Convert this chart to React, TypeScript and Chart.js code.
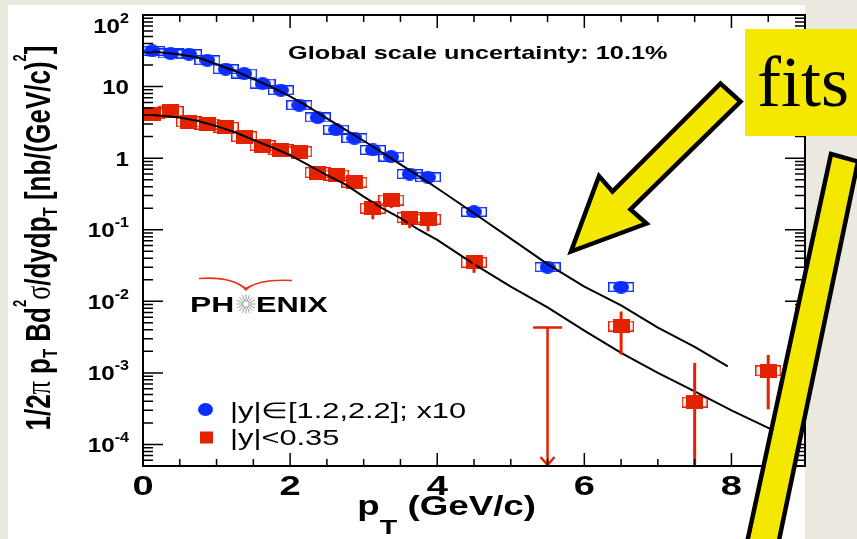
import React, { useEffect, useRef } from "react";
import { Chart, registerables } from "chart.js";

Chart.register(...registerables);

// ---------------- data ----------------
// |y| in [1.2,2.2] (x10), blue circles
const blueX = [0.125, 0.375, 0.625, 0.875, 1.125, 1.375, 1.625, 1.875, 2.125, 2.375, 2.625, 2.875, 3.125, 3.375, 3.625, 3.875, 4.5, 5.5, 6.5];
const blueY = [31.5, 29, 28.3, 23.3, 17.5, 15.2, 11, 8.9, 5.5, 3.7, 2.5, 1.9, 1.3, 1.05, 0.6, 0.54, 0.178, 0.03, 0.0158];

// |y| < 0.35, red squares
const redX = [0.125, 0.375, 0.625, 0.875, 1.125, 1.375, 1.625, 1.875, 2.125, 2.375, 2.625, 2.875, 3.125, 3.375, 3.625, 3.875, 4.5, 6.5, 7.5, 8.5];
const redY = [4.2, 4.5, 3.2, 3.0, 2.7, 2.0, 1.5, 1.32, 1.23, 0.63, 0.58, 0.46, 0.2, 0.26, 0.148, 0.14, 0.035, 0.0045, 0.00039, 0.00107];
const redErrLow = [null, null, null, null, null, null, null, null, null, null, null, null, 0.14, 0.2, 0.105, 0.095, 0.025, 0.0018, 0.00001, 0.00031];
const redErrHigh = [null, null, null, null, null, null, null, null, null, null, null, null, 0.24, 0.3, 0.18, 0.175, 0.043, 0.0072, 0.00138, 0.00178];

// upper limit (red, arrow)
const limitX = [5.5];
const limitY = [0.0043];

// fit curves
const fitBlueX = [0.13, 0.5, 0.75, 1.0, 1.25, 1.5, 1.75, 2.0, 2.25, 2.5, 2.75, 3.0, 3.25, 3.5, 3.75, 4.0, 4.5, 5.0, 5.5, 6.0, 6.5, 7.0, 7.5, 7.95];
const fitBlueY = [31, 28, 25.5, 20.5, 16.5, 12.8, 9.8, 7.3, 5.2, 3.6, 2.5, 1.75, 1.2, 0.82, 0.56, 0.38, 0.17, 0.075, 0.033, 0.016, 0.0088, 0.0043, 0.0023, 0.00123];
const fitRedX = [0.13, 0.5, 0.75, 1.0, 1.25, 1.5, 1.75, 2.0, 2.25, 2.5, 2.75, 3.0, 3.25, 3.5, 3.75, 4.0, 4.5, 5.0, 5.5, 6.0, 6.5, 7.0, 7.5, 8.0, 8.5, 8.9];
const fitRedY = [4.0, 3.7, 3.3, 2.8, 2.3, 1.8, 1.42, 1.1, 0.8, 0.58, 0.43, 0.29, 0.2, 0.145, 0.1, 0.072, 0.033, 0.016, 0.0082, 0.0039, 0.0019, 0.001, 0.00055, 0.0003, 0.00017, 0.000107];

// axes / text
const xTickLabels = [0, 2, 4, 6, 8];
const yTickPowers = [2, 1, 0, -1, -2, -3, -4];
const legendLabels = ["|y|\u2208[1.2,2.2]; x10", "|y|<0.35"];
const scaleNote = "Global scale uncertainty: 10.1%";
const calloutText = "fits";

// ---------------- styling ----------------
const BLUE = "#0b2dff";
const RED = "#e52200";
const YELLOW = "#f5e800";
const SANS = "'Liberation Sans', Arial, Helvetica, sans-serif";
const SERIF = "'Liberation Serif', 'Times New Roman', serif";
const SX = 1.36; // horizontal stretch of the original picture

type Run = { t: string; font: string; dy?: number };

function drawRuns(ctx: CanvasRenderingContext2D, runs: Run[], x: number, y: number, sx: number, sy: number, align: string, rot = 0) {
  ctx.save();
  ctx.translate(x, y);
  if (rot) ctx.rotate(rot);
  ctx.scale(sx, sy);
  let w = 0;
  for (const r of runs) { ctx.font = r.font; w += ctx.measureText(r.t).width; }
  let cx = align === "left" ? 0 : align === "center" ? -w / 2 : -w;
  ctx.textAlign = "left";
  ctx.textBaseline = "alphabetic";
  for (const r of runs) {
    ctx.font = r.font;
    ctx.fillText(r.t, cx, r.dy || 0);
    cx += ctx.measureText(r.t).width;
  }
  ctx.restore();
}

function makeBox(color: string, w: number, h: number) {
  const c = document.createElement("canvas");
  c.width = w; c.height = h;
  const g = c.getContext("2d")!;
  g.strokeStyle = color; g.lineWidth = 1.4;
  g.strokeRect(0.7, 0.7, w - 1.4, h - 1.4);
  return c;
}
function makeEllipse(color: string, w: number, h: number) {
  const c = document.createElement("canvas");
  c.width = w; c.height = h;
  const g = c.getContext("2d")!;
  g.fillStyle = color;
  g.beginPath(); g.ellipse(w / 2, h / 2, w / 2, h / 2, 0, 0, Math.PI * 2); g.fill();
  return c;
}
function makeRect(color: string, w: number, h: number) {
  const c = document.createElement("canvas");
  c.width = w; c.height = h;
  const g = c.getContext("2d")!;
  g.fillStyle = color; g.fillRect(0, 0, w, h);
  return c;
}

const decorPlugin = {
  id: "decor",
  beforeDraw(chart: any) {
    const ctx = chart.ctx as CanvasRenderingContext2D;
    const ca = chart.chartArea;
    ctx.save();
    ctx.fillStyle = "#ebe9df";
    ctx.fillRect(0, 0, chart.width, chart.height);
    ctx.fillStyle = "#ffffff";
    ctx.fillRect(8, 5, ca.right - 8, chart.height - 5);
    ctx.restore();
  },
  afterDatasetsDraw(chart: any) {
    const ctx = chart.ctx as CanvasRenderingContext2D;
    const xs = chart.scales.x, ys = chart.scales.y;
    const { left, right, top, bottom } = chart.chartArea;
    ctx.save();
    ctx.beginPath(); ctx.rect(left, top, right - left, bottom - top); ctx.clip();
    ctx.strokeStyle = RED; ctx.lineWidth = 3;
    redX.forEach((x, i) => {
      const lo = redErrLow[i], hi = redErrHigh[i];
      if (lo == null || hi == null) return;
      const px = xs.getPixelForValue(x);
      ctx.beginPath();
      ctx.moveTo(px, ys.getPixelForValue(hi));
      ctx.lineTo(px, ys.getPixelForValue(lo));
      ctx.stroke();
    });
    ctx.lineWidth = 2.5;
    limitX.forEach((x, i) => {
      const px = xs.getPixelForValue(x);
      const py = ys.getPixelForValue(limitY[i]);
      ctx.beginPath();
      ctx.moveTo(px, py); ctx.lineTo(px, bottom - 1);
      ctx.moveTo(px - 14.5, py); ctx.lineTo(px + 14.5, py);
      ctx.moveTo(px - 7, bottom - 9); ctx.lineTo(px, bottom - 1); ctx.lineTo(px + 7, bottom - 9);
      ctx.stroke();
    });
    ctx.restore();
  },
  afterDraw(chart: any) {
    const ctx = chart.ctx as CanvasRenderingContext2D;
    const xs = chart.scales.x, ys = chart.scales.y;
    const { left, right, top, bottom } = chart.chartArea;
    ctx.save();
    // ticks
    ctx.strokeStyle = "#000"; ctx.lineWidth = 1.5;
    ctx.beginPath();
    for (let k = 0; k <= 18; k++) {
      const v = k * 0.5;
      const px = xs.getPixelForValue(v);
      const len = k % 4 === 0 ? 13 : 7;
      ctx.moveTo(px, bottom); ctx.lineTo(px, bottom - len);
      ctx.moveTo(px, top); ctx.lineTo(px, top + len);
    }
    for (let p = -5; p <= 2; p++) {
      for (let m = 1; m <= 9; m++) {
        const v = m * Math.pow(10, p);
        if (v < ys.min * 0.999 || v > ys.max * 1.001) continue;
        const py = ys.getPixelForValue(v);
        const len = m === 1 ? 20 : 10;
        ctx.moveTo(left, py); ctx.lineTo(left + len, py);
        ctx.moveTo(right, py); ctx.lineTo(right - len, py);
      }
    }
    ctx.stroke();
    // frame
    ctx.lineWidth = 2;
    ctx.strokeRect(left, top, right - left, bottom - top);

    ctx.fillStyle = "#000";
    // x tick labels
    xTickLabels.forEach((v) => {
      drawRuns(ctx, [{ t: String(v), font: `bold 28px ${SANS}` }], xs.getPixelForValue(v), 495, SX, 1, "center");
    });
    // y tick labels
    yTickPowers.forEach((p) => {
      let cy = ys.getPixelForValue(Math.pow(10, p));
      if (cy < top + 10) cy = top + 10;
      const runs: Run[] = p === 1 ? [{ t: "10", font: `bold 21px ${SANS}` }]
        : p === 0 ? [{ t: "1", font: `bold 21px ${SANS}` }]
        : [{ t: "10", font: `bold 21px ${SANS}` }, { t: String(p), font: `bold 14px ${SANS}`, dy: -10 }];
      drawRuns(ctx, runs, 129, cy + 7.5, 1.15, 1, "right");
    });
    // x title
    drawRuns(ctx, [
      { t: "p", font: `bold 27px ${SANS}` },
      { t: "T", font: `bold 21px ${SANS}`, dy: 19 },
      { t: " (GeV/c)", font: `bold 27px ${SANS}` },
    ], 536, 515, SX, 1, "right");
    // y title (rotated)
    drawRuns(ctx, [
      { t: "1/2", font: `bold 26px ${SANS}` },
      { t: "\u03c0", font: `26px ${SERIF}` },
      { t: " p", font: `bold 26px ${SANS}` },
      { t: "T", font: `bold 15px ${SANS}`, dy: 5 },
      { t: " Bd", font: `bold 26px ${SANS}` },
      { t: "2", font: `bold 13px ${SANS}`, dy: -18 },
      { t: "\u03c3", font: `26px ${SERIF}` },
      { t: "/dydp", font: `bold 26px ${SANS}` },
      { t: "T", font: `bold 15px ${SANS}`, dy: 5 },
      { t: " [nb/(GeV/c)", font: `bold 26px ${SANS}` },
      { t: "2", font: `bold 13px ${SANS}`, dy: -18 },
      { t: "]", font: `bold 26px ${SANS}` },
    ], 50, 238, 1, SX, "center", -Math.PI / 2);

    // global scale note
    drawRuns(ctx, [{ t: scaleNote, font: `bold 18.6px ${SANS}` }], 288, 58.5, SX, 1, "left");

    // legend
    ctx.fillStyle = BLUE;
    ctx.beginPath(); ctx.ellipse(205.5, 409.5, 7.5, 6.5, 0, 0, Math.PI * 2); ctx.fill();
    ctx.fillStyle = RED;
    ctx.fillRect(200, 431.5, 13, 12);
    ctx.fillStyle = "#000";
    drawRuns(ctx, [{ t: legendLabels[0], font: `22px ${SANS}` }], 230, 418, 1.4, 1, "left");
    drawRuns(ctx, [{ t: legendLabels[1], font: `22px ${SANS}` }], 230, 445, 1.4, 1, "left");

    // PHENIX logo
    drawRuns(ctx, [{ t: "PH", font: `bold 22px ${SANS}` }], 190, 312, 1.45, 1, "left");
    drawRuns(ctx, [{ t: "ENIX", font: `bold 22px ${SANS}` }], 256, 312, 1.4, 1, "left");
    ctx.strokeStyle = "#9a9a9a"; ctx.lineWidth = 1;
    ctx.beginPath();
    for (let k = 0; k < 16; k++) {
      const a = (k / 16) * Math.PI * 2;
      ctx.moveTo(246 + Math.cos(a) * 2.5, 304 + Math.sin(a) * 2.5);
      ctx.lineTo(246 + Math.cos(a) * 9.5, 304 + Math.sin(a) * 9.5);
    }
    ctx.stroke();
    ctx.strokeStyle = "#e8321c"; ctx.lineWidth = 1.6;
    ctx.beginPath();
    ctx.moveTo(199, 278.5);
    ctx.quadraticCurveTo(232, 276, 246, 289.5);
    ctx.quadraticCurveTo(258, 279, 292, 280.5);
    ctx.stroke();
    ctx.fillStyle = "#e8321c";
    ctx.beginPath(); ctx.moveTo(240, 284.5); ctx.lineTo(246, 291); ctx.lineTo(252, 284.5); ctx.lineTo(246, 287.5); ctx.closePath(); ctx.fill();

    // yellow callout box
    ctx.fillStyle = YELLOW;
    ctx.fillRect(745, 29, 120, 107);
    ctx.fillStyle = "#000";
    (ctx as any).textRendering = "optimizeLegibility";
    ctx.font = `72px ${SERIF}`;
    ctx.textAlign = "left"; ctx.textBaseline = "alphabetic";
    ctx.fillText(calloutText, 757, 106);

    // yellow arrow
    ctx.fillStyle = YELLOW; ctx.strokeStyle = "#000"; ctx.lineWidth = 4.5; ctx.lineJoin = "miter";
    ctx.beginPath();
    ctx.moveTo(571, 251.5);
    ctx.lineTo(599, 176);
    ctx.lineTo(612.5, 191.5);
    ctx.lineTo(720.5, 83.5);
    ctx.lineTo(740.5, 101.5);
    ctx.lineTo(630.5, 209.5);
    ctx.lineTo(646.5, 223.5);
    ctx.closePath();
    ctx.fill(); ctx.stroke();

    // yellow slanted bar
    ctx.beginPath();
    ctx.moveTo(831, 154);
    ctx.lineTo(858, 161.5);
    ctx.lineTo(778, 545);
    ctx.lineTo(746.5, 545);
    ctx.closePath();
    ctx.fill(); ctx.stroke();
    ctx.restore();
  },
};

export default function App() {
  const ref = useRef<HTMLCanvasElement | null>(null);
  useEffect(() => {
    if (!ref.current) return;
    const blueBox = makeBox(BLUE, 26, 10);
    const redBox = makeBox(RED, 26, 11);
    const blueDot = makeEllipse(BLUE, 16, 13);
    const redSq = makeRect(RED, 17, 14);
    const pts = (xs: number[], ys: number[]) => xs.map((x, i) => ({ x, y: ys[i] }));
    const chart = new Chart(ref.current, {
      type: "scatter",
      data: {
        datasets: [
          { label: "fit blue", type: "line", data: pts(fitBlueX, fitBlueY), borderColor: "#000", borderWidth: 2, pointRadius: 0, showLine: true, fill: false, order: 0 } as any,
          { label: "fit red", type: "line", data: pts(fitRedX, fitRedY), borderColor: "#000", borderWidth: 2, pointRadius: 0, showLine: true, fill: false, order: 0 } as any,
          { label: legendLabels[0], data: pts(blueX, blueY), pointStyle: blueDot, pointRadius: 6, order: 1 } as any,
          { label: legendLabels[1], data: pts(redX, redY), pointStyle: redSq, pointRadius: 6, order: 1 } as any,
          { label: "sys blue", data: pts(blueX, blueY), pointStyle: blueBox, pointRadius: 6, order: 2 } as any,
          { label: "sys red", data: pts(redX, redY), pointStyle: redBox, pointRadius: 6, order: 2 } as any,
        ],
      },
      options: {
        animation: false,
        responsive: false,
        events: [],
        layout: { padding: { left: 143, right: 52, top: 15, bottom: 73 } },
        plugins: { legend: { display: false }, tooltip: { enabled: false } },
        scales: {
          x: { type: "linear", min: 0, max: 9, display: false },
          y: { type: "logarithmic", min: 5e-5, max: 100, display: false },
        },
      } as any,
      plugins: [decorPlugin],
    });
    return () => chart.destroy();
  }, []);
  return (
    <div style={{ position: "fixed", left: 0, top: 0, width: 857, height: 539, overflow: "hidden" }}>
      <canvas ref={ref} width={857} height={539} style={{ display: "block" }} />
    </div>
  );
}
